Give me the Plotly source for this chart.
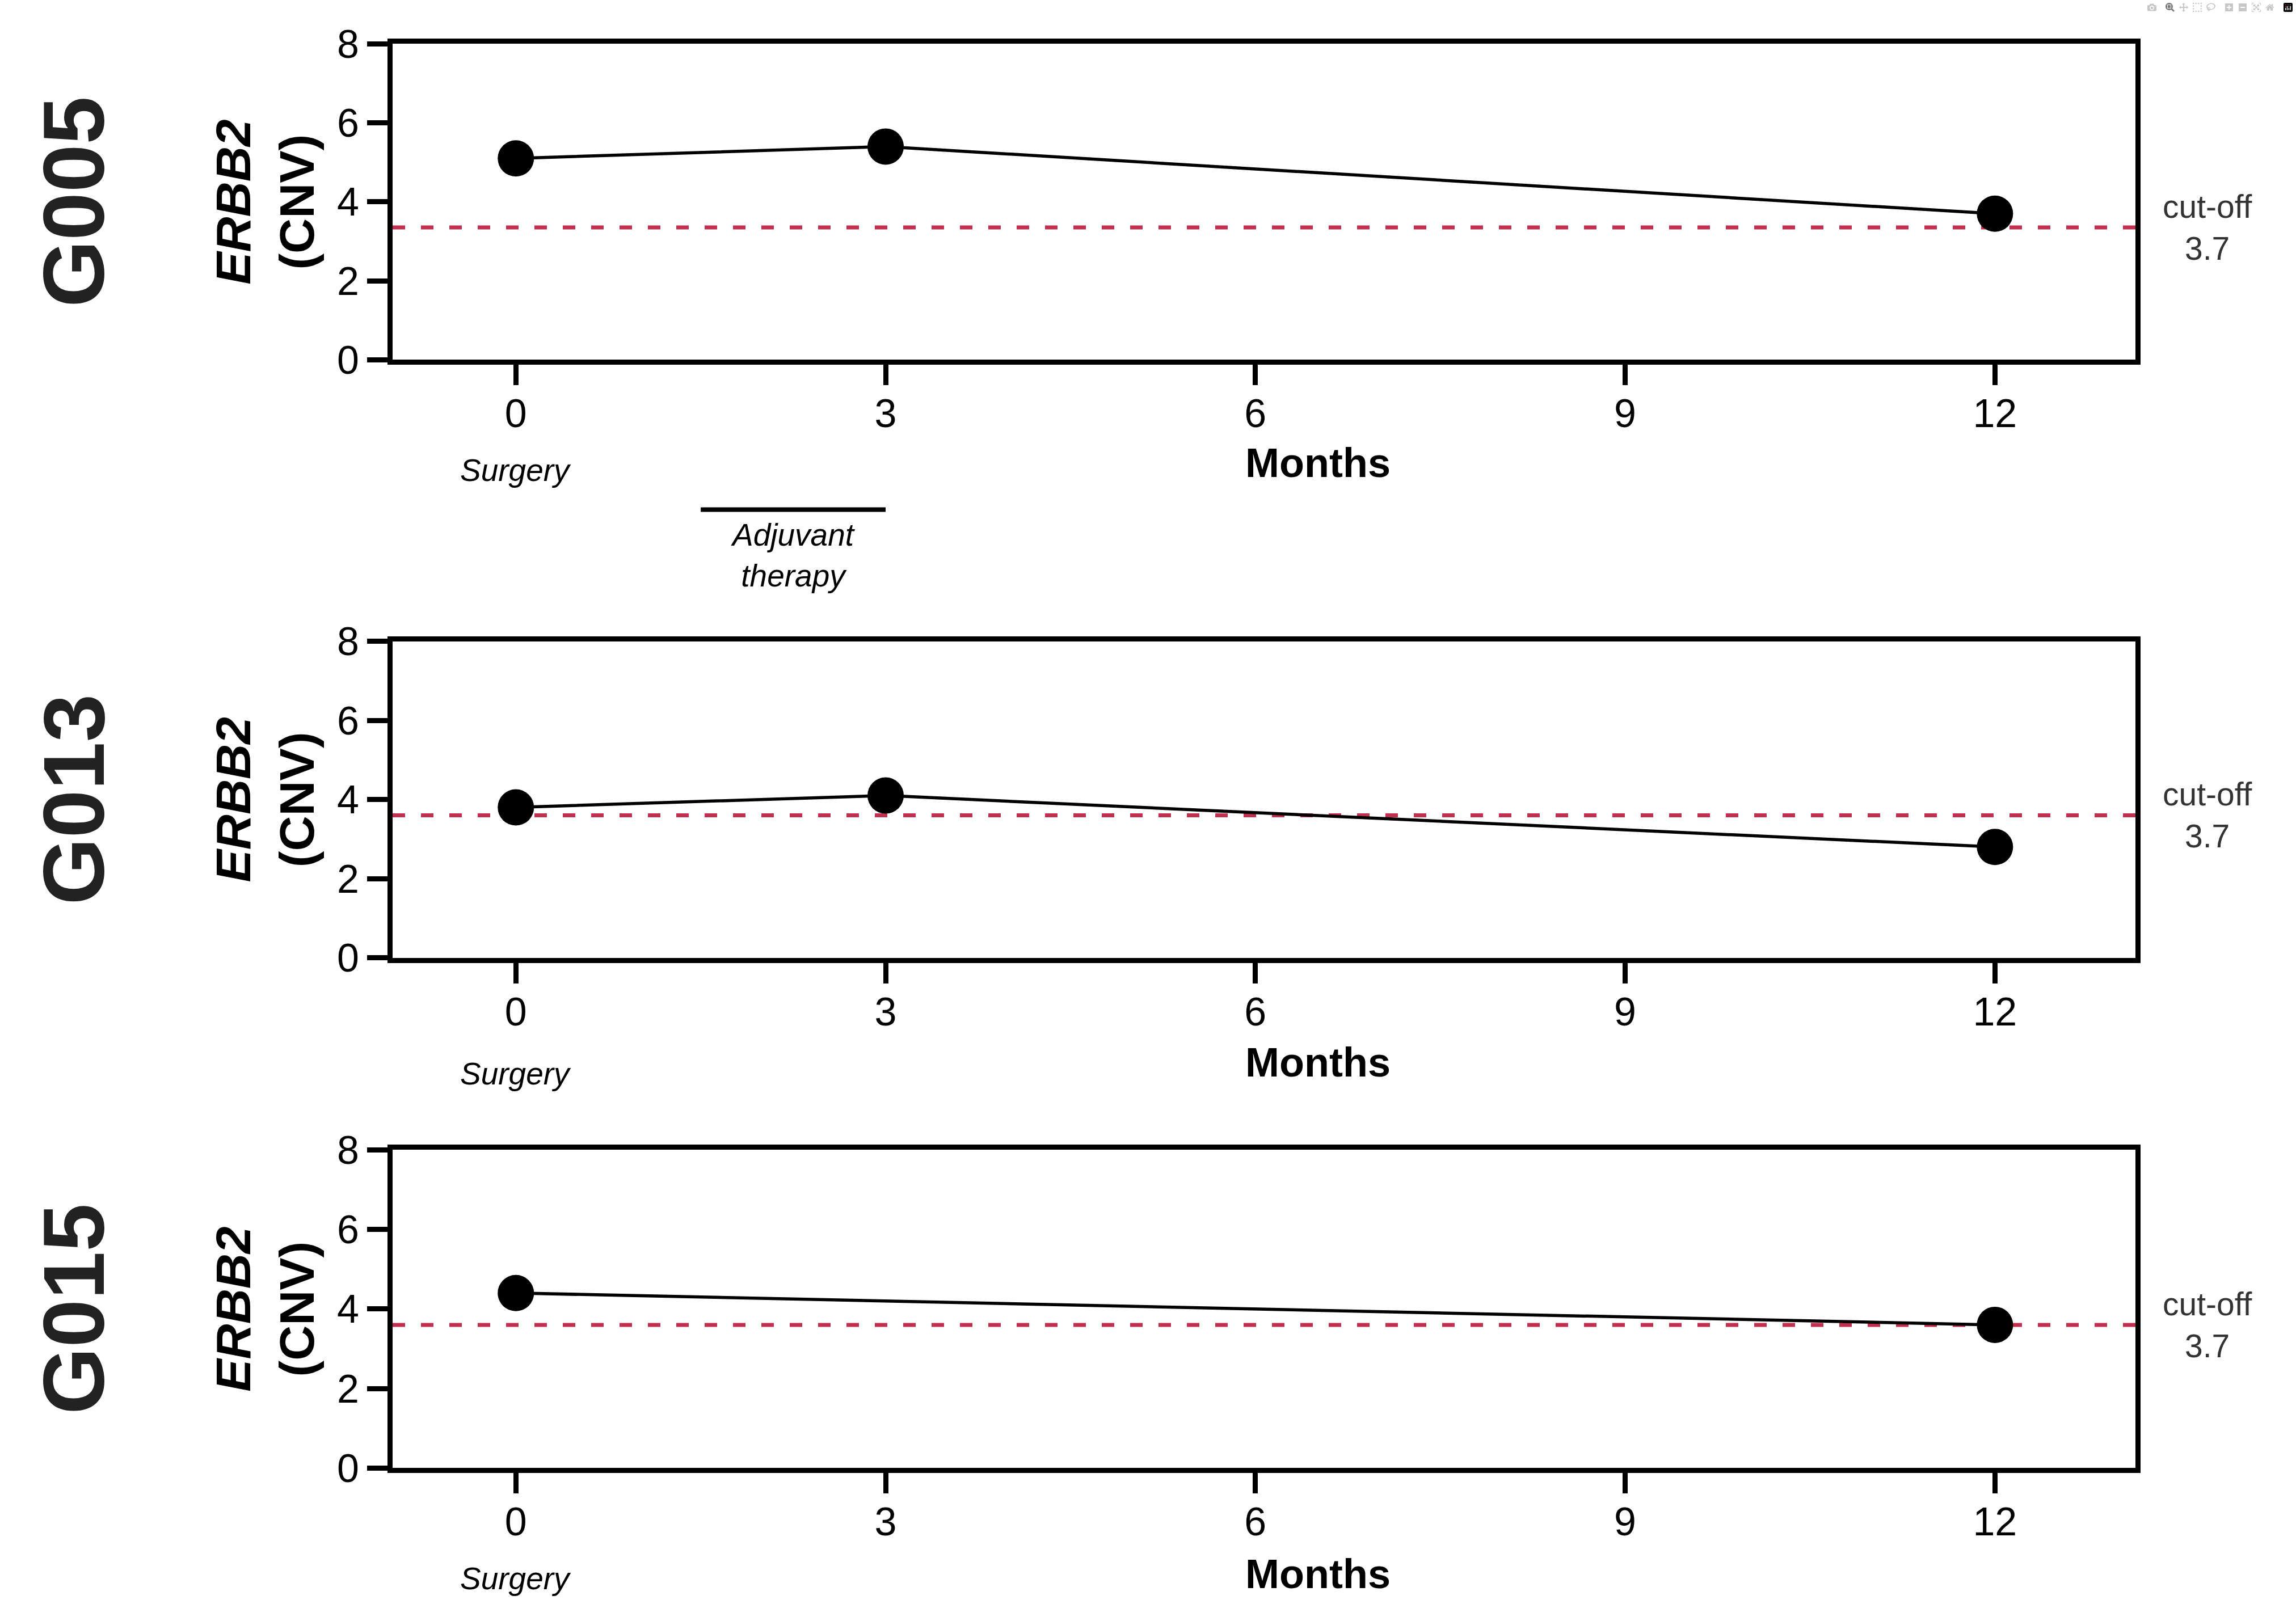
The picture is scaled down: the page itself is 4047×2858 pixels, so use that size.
import plotly.graph_objects as go

# ---------------- data ----------------
patients = ["G005", "G013", "G015"]
months_g005 = [0, 3, 12]
cnv_g005 = [5.1, 5.4, 3.7]
months_g013 = [0, 3, 12]
cnv_g013 = [3.8, 4.1, 2.8]
months_g015 = [0, 12]
cnv_g015 = [4.4, 3.6]
cutoff_drawn = [3.35, 3.6, 3.6]
cutoff_label = "cut-off<br>3.7"
x_ticks = [0, 3, 6, 9, 12]
y_ticks = [0, 2, 4, 6, 8]
adjuvant_span = [1.5, 3.0]

series_x = [months_g005, months_g013, months_g015]
series_y = [cnv_g005, cnv_g013, cnv_g015]

# ---------------- layout helpers ----------------
W, H = 4047, 2858
FONT = "Liberation Sans, Arial, sans-serif"
# target pixel positions of each panel (top, bottom)
panel_px = [(79, 638), (1136, 1696), (2036, 2599)]
months_px = [820, 1881, 2786]
surgery_px = [833, 1901, 2794]
x_left_px, x_right_px = 692, 3764


def py(p):
    # vertical pixel -> paper fraction (calibrated to the rendered page)
    return 1 - (p - 40.5) / 2789.0


def px(p):
    return p / W


fig = go.Figure()
annotations = []
shapes = []

for i, name in enumerate(patients):
    n = i + 1
    xa = "x" if n == 1 else f"x{n}"
    ya = "y" if n == 1 else f"y{n}"
    top, bot = panel_px[i]
    fig.add_trace(go.Scatter(
        x=series_x[i], y=series_y[i], xaxis=xa, yaxis=ya,
        mode="lines+markers",
        line=dict(color="black", width=5.5),
        marker=dict(color="black", size=64),
        showlegend=False, cliponaxis=False,
    ))
    axis_common = dict(
        showline=True, linecolor="black", linewidth=9, mirror=True,
        ticks="outside", ticklen=36, tickwidth=9, tickcolor="black",
        showgrid=False, zeroline=False,
        tickfont=dict(family=FONT, size=70, color="black"),
    )
    fig.update_layout(**{
        f"xaxis{'' if n == 1 else n}": dict(
            domain=[px(x_left_px), px(x_right_px)], range=[-1, 13.14],
            tickvals=x_ticks, anchor=ya, ticklabelstandoff=-10, **axis_common),
        f"yaxis{'' if n == 1 else n}": dict(
            domain=[py(bot), py(top)], range=[0, 8],
            tickvals=y_ticks, anchor=xa, **axis_common),
    })
    # cut-off dashed line
    shapes.append(dict(
        type="line", xref=f"{xa} domain", yref=ya, x0=0, x1=1,
        y0=cutoff_drawn[i], y1=cutoff_drawn[i],
        line=dict(color="#c2304f", width=7, dash="22px,28px"), layer="below"))
    # cut-off label
    annotations.append(dict(
        text=cutoff_label, xref="paper", yref=ya, x=px(3891), y=cutoff_drawn[i],
        showarrow=False, xanchor="center", yanchor="middle", align="center",
        font=dict(family=FONT, size=57, color="#333333")))
    # patient label
    annotations.append(dict(
        text=f"<b>{name}</b>", xref="paper", yref=f"{ya} domain", x=px(130), y=0.5,
        showarrow=False, textangle=-90, xanchor="center", yanchor="middle",
        font=dict(family=FONT, size=152, color="#222222")))
    # y axis title
    annotations.append(dict(
        text="<b><i>ERBB2</i><br>(CNV)</b>", xref="paper", yref=f"{ya} domain",
        x=px(467), y=0.5, showarrow=False, textangle=-90,
        xanchor="center", yanchor="middle", align="center",
        font=dict(family=FONT, size=86, color="black")))
    # x axis title
    annotations.append(dict(
        text="<b>Months</b>", xref="paper", yref="paper", x=px(2323), y=py(months_px[i]),
        showarrow=False, xanchor="center", yanchor="middle",
        font=dict(family=FONT, size=72, color="black")))
    # Surgery label
    annotations.append(dict(
        text="<i>Surgery</i>", xref=xa, yref="paper", x=0, y=py(surgery_px[i]),
        showarrow=False, xanchor="center", yanchor="middle",
        font=dict(family=FONT, size=55, color="black")))

# adjuvant therapy bar (panel 1)
shapes.append(dict(type="line", xref="x", yref="paper",
                   x0=adjuvant_span[0], x1=adjuvant_span[1], y0=py(903), y1=py(903),
                   line=dict(color="black", width=8)))
annotations.append(dict(
    text="<i>Adjuvant<br>therapy</i>", xref="x", yref="paper",
    x=sum(adjuvant_span) / 2, y=py(984), showarrow=False,
    xanchor="center", yanchor="middle", align="center",
    font=dict(family=FONT, size=55, color="black")))

fig.update_layout(
    width=W, height=H, autosize=False,
    margin=dict(l=0, r=0, t=0, b=0),
    paper_bgcolor="white", plot_bgcolor="white",
    shapes=shapes, annotations=annotations,
    font=dict(family=FONT),
)

fig.write_html("out.html", post_script="document.body.style.margin='0px';")
